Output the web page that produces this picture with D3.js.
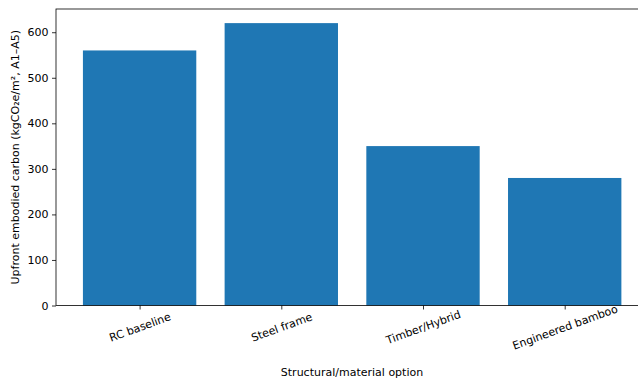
<!DOCTYPE html>
<html>
<head>
<meta charset="utf-8">
<script src="https://cdn.jsdelivr.net/npm/d3@7"></script>
<style>
  html, body { margin: 0; padding: 0; background: #fff; }
  svg { display: block; font-family: "DejaVu Sans", sans-serif; }
</style>
</head>
<body>
<svg id="chart" width="638" height="380"></svg>
<script>
// Upfront embodied carbon by structural option
const categories = ["RC baseline", "Steel frame", "Timber/Hybrid", "Engineered bamboo"];
const values = [560, 620, 350, 280];
const yTicks = [0, 100, 200, 300, 400, 500, 600];

const svg = d3.select("#chart");
const plotLeft = 56, plotTop = 9, plotBottom = 305.5;
const pxPerCat = 141.7;
const xMin = -0.59, xMax = 3.59;
const plotRight = plotLeft + (xMax - xMin) * pxPerCat;

const x = d3.scaleLinear().domain([xMin, xMax]).range([plotLeft, plotRight]);
const y = d3.scaleLinear().domain([0, 651]).range([plotBottom, plotTop]);
const barW = 0.8;

// bars
svg.append("g").selectAll("rect")
  .data(values)
  .join("rect")
  .attr("x", (d, i) => x(i - barW / 2))
  .attr("width", (d, i) => x(i + barW / 2) - x(i - barW / 2))
  .attr("y", d => y(d))
  .attr("height", d => y(0) - y(d))
  .attr("fill", "#1f77b4");

// y axis
const yAxis = d3.axisLeft(y).tickValues(yTicks).tickSize(4).tickPadding(3.5);
const gy = svg.append("g").attr("transform", `translate(${plotLeft},0)`).call(yAxis);
gy.select(".domain").remove();
gy.selectAll("line").attr("stroke", "#000").attr("stroke-width", 0.8);
gy.selectAll("text").attr("font-size", 11).attr("fill", "#000")
  .attr("font-family", "DejaVu Sans, sans-serif");

// x axis
const xAxis = d3.axisBottom(x).tickValues(d3.range(categories.length))
  .tickFormat(i => categories[i]).tickSize(4).tickPadding(3.5);
const gx = svg.append("g").attr("transform", `translate(0,${plotBottom})`).call(xAxis);
gx.select(".domain").remove();
gx.selectAll("line").attr("stroke", "#000").attr("stroke-width", 0.8);
gx.selectAll("text")
  .attr("font-size", 11).attr("fill", "#000")
  .attr("font-family", "DejaVu Sans, sans-serif")
  .attr("text-anchor", "middle")
  .attr("dy", null)
  .attr("y", 0)
  .attr("dominant-baseline", "central")
  .attr("transform", "translate(0,22) rotate(-20)");

// frame
svg.append("rect")
  .attr("x", plotLeft).attr("y", plotTop)
  .attr("width", plotRight - plotLeft).attr("height", plotBottom - plotTop)
  .attr("fill", "none").attr("stroke", "#000").attr("stroke-width", 0.8);

// axis titles
svg.append("text")
  .attr("x", 352).attr("y", 376)
  .attr("text-anchor", "middle").attr("font-size", 11).attr("fill", "#000")
  .text("Structural/material option");

svg.append("text")
  .attr("transform", `translate(19,${(plotTop + plotBottom) / 2}) rotate(-90)`)
  .attr("text-anchor", "middle").attr("font-size", 11).attr("fill", "#000")
  .text("Upfront embodied carbon (kgCO₂e/m², A1–A5)");
</script>
</body>
</html>
